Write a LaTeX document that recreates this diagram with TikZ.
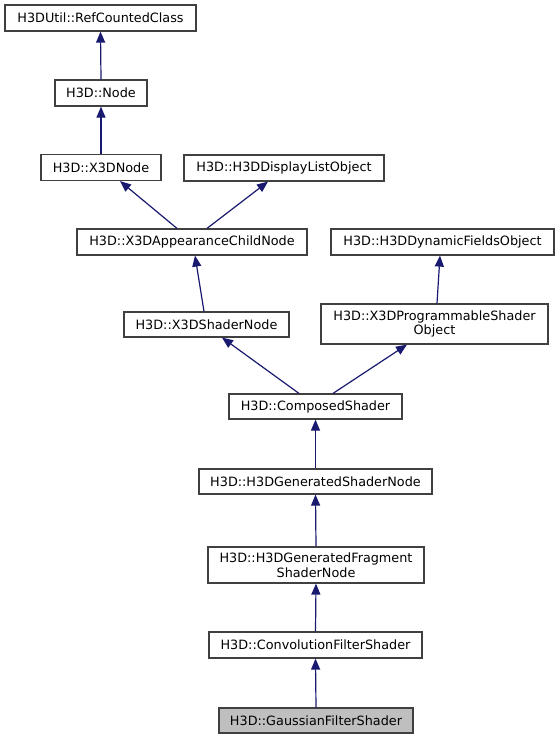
\documentclass[tikz,border=0pt]{standalone}
\usepackage{fontspec}
\setmainfont{DejaVu Sans}
\usetikzlibrary{arrows.meta}
\definecolor{edgecol}{HTML}{191970}
\tikzset{
  cls/.style={draw=black!75, line width=1.2pt, fill=white, inner sep=0pt, align=center,
    font=\fontsize{12.8}{14.5}\selectfont},
  cur/.style={cls, fill=black!25},
  inh/.style={draw=edgecol, line width=1.2pt, -{Triangle[length=11pt,width=9pt]}},
}
\begin{document}
\begin{tikzpicture}[x=1pt,y=-1pt]
\useasboundingbox (0,0) rectangle (559,739);
\node[cls, minimum width=191pt, minimum height=26pt] (rc) at (100.5,18) {H3DUtil::RefCountedClass};
\node[cls, minimum width=92pt, minimum height=26pt] (nd) at (101,93) {H3D::Node};
\node[cls, minimum width=120pt, minimum height=26pt] (x3d) at (101,167.5) {H3D::X3DNode};
\node[cls, minimum width=200pt, minimum height=26pt] (dl) at (284,168) {H3D::H3DDisplayListObject};
\node[cls, minimum width=230pt, minimum height=26pt] (app) at (192,242) {H3D::X3DAppearanceChildNode};
\node[cls, minimum width=223pt, minimum height=26pt] (dyn) at (442.5,242) {H3D::H3DDynamicFieldsObject};
\node[cls, minimum width=165pt, minimum height=25pt] (sh) at (206.5,324.5) {H3D::X3DShaderNode};
\node[cls, minimum width=227pt, minimum height=40pt] (prog) at (434.5,324) {H3D::X3DProgrammableShader\\Object};
\node[cls, minimum width=173pt, minimum height=25pt] (comp) at (315.5,406.5) {H3D::ComposedShader};
\node[cls, minimum width=233pt, minimum height=25pt] (gen) at (315.5,481.5) {H3D::H3DGeneratedShaderNode};
\node[cls, minimum width=216pt, minimum height=36pt] (frag) at (316,565) {H3D::H3DGeneratedFragment\\ShaderNode};
\node[cls, minimum width=213pt, minimum height=26pt] (conv) at (315.5,645) {H3D::ConvolutionFilterShader};
\node[cur, minimum width=194pt, minimum height=25pt] (gau) at (316,720.5) {H3D::GaussianFilterShader};

\draw[inh] (nd.north) -- (rc.south);
\draw[inh] (x3d.north) -- (nd.south);
\draw[inh] ([xshift=-15pt]app.north) -- ([xshift=19pt]x3d.south);
\draw[inh] ([xshift=15pt]app.north) -- ([xshift=-16pt]dl.south);
\draw[inh] ([xshift=-2.5pt]sh.north) -- ([xshift=3pt]app.south);
\draw[inh] ([xshift=2.5pt]prog.north) -- ([xshift=-2.5pt]dyn.south);
\draw[inh] ([xshift=-16.5pt]comp.north) -- ([xshift=15.5pt]sh.south);
\draw[inh] ([xshift=17.5pt]comp.north) -- ([xshift=-27.5pt]prog.south);
\draw[inh] (gen.north) -- (comp.south);
\draw[inh] (frag.north) -- (gen.south);
\draw[inh] (conv.north) -- (frag.south);
\draw[inh] (gau.north) -- (conv.south);
\end{tikzpicture}
\end{document}
